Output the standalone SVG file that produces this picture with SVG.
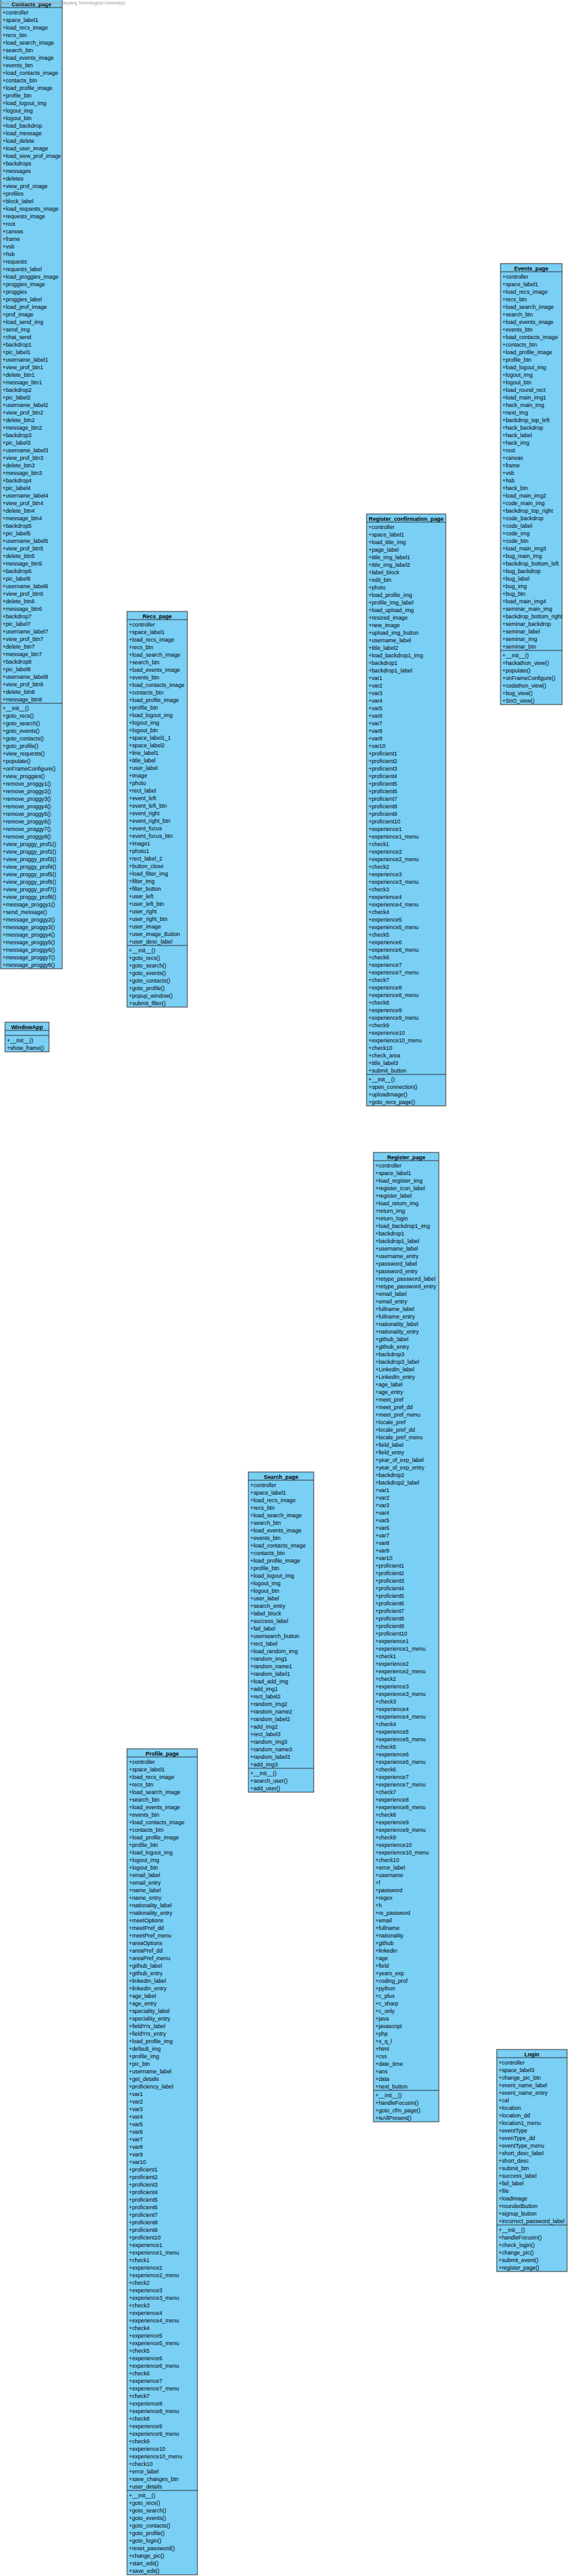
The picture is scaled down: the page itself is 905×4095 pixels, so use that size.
<svg xmlns="http://www.w3.org/2000/svg" width="905" height="4095" viewBox="0 0 905 4095">
<style>
.box{fill:#7ACFF5;stroke:#2b2b2b;stroke-width:1}
.sep{stroke:#2b2b2b;stroke-width:1}
.t{font-family:'Liberation Sans',Arial,sans-serif;font-size:8.8px;fill:#000}
.h{font-family:'Liberation Sans',Arial,sans-serif;font-size:8.8px;font-weight:bold;fill:#000;text-anchor:middle}
.wm{font-family:'Liberation Sans',Arial,sans-serif;font-size:6.6px;fill:#9a9a9a}
</style>
<rect width="905" height="4095" fill="#ffffff"/>
<g id="connectors"></g>

<g id="Contacts_page">
<rect class="box" x="1" y="-1" width="98" height="1541"/>
<line class="sep" x1="1" y1="12" x2="99" y2="12"/>
<line class="sep" x1="1" y1="1118" x2="99" y2="1118"/>
<text class="h" x="50" y="9.5">Contacts_page</text>
<text class="t" y="23"><tspan x="4">+controller</tspan><tspan x="4" dy="12">+space_label1</tspan><tspan x="4" dy="12">+load_recs_image</tspan><tspan x="4" dy="12">+recs_btn</tspan><tspan x="4" dy="12">+load_search_image</tspan><tspan x="4" dy="12">+search_btn</tspan><tspan x="4" dy="12">+load_events_image</tspan><tspan x="4" dy="12">+events_btn</tspan><tspan x="4" dy="12">+load_contacts_image</tspan><tspan x="4" dy="12">+contacts_btn</tspan><tspan x="4" dy="12">+load_profile_image</tspan><tspan x="4" dy="12">+profile_btn</tspan><tspan x="4" dy="12">+load_logout_img</tspan><tspan x="4" dy="12">+logout_img</tspan><tspan x="4" dy="12">+logout_btn</tspan><tspan x="4" dy="12">+load_backdrop</tspan><tspan x="4" dy="12">+load_message</tspan><tspan x="4" dy="12">+load_delete</tspan><tspan x="4" dy="12">+load_user_image</tspan><tspan x="4" dy="12">+load_view_prof_image</tspan><tspan x="4" dy="12">+backdrops</tspan><tspan x="4" dy="12">+messages</tspan><tspan x="4" dy="12">+deletes</tspan><tspan x="4" dy="12">+view_prof_image</tspan><tspan x="4" dy="12">+profiles</tspan><tspan x="4" dy="12">+block_label</tspan><tspan x="4" dy="12">+load_requests_image</tspan><tspan x="4" dy="12">+requests_image</tspan><tspan x="4" dy="12">+root</tspan><tspan x="4" dy="12">+canvas</tspan><tspan x="4" dy="12">+frame</tspan><tspan x="4" dy="12">+vsb</tspan><tspan x="4" dy="12">+hsb</tspan><tspan x="4" dy="12">+requests</tspan><tspan x="4" dy="12">+requests_label</tspan><tspan x="4" dy="12">+load_proggies_image</tspan><tspan x="4" dy="12">+proggies_image</tspan><tspan x="4" dy="12">+proggies</tspan><tspan x="4" dy="12">+proggies_label</tspan><tspan x="4" dy="12">+load_prof_image</tspan><tspan x="4" dy="12">+prof_image</tspan><tspan x="4" dy="12">+load_send_img</tspan><tspan x="4" dy="12">+send_img</tspan><tspan x="4" dy="12">+chat_send</tspan><tspan x="4" dy="12">+backdrop1</tspan><tspan x="4" dy="12">+pic_label1</tspan><tspan x="4" dy="12">+username_label1</tspan><tspan x="4" dy="12">+view_prof_btn1</tspan><tspan x="4" dy="12">+delete_btn1</tspan><tspan x="4" dy="12">+message_btn1</tspan><tspan x="4" dy="12">+backdrop2</tspan><tspan x="4" dy="12">+pic_label2</tspan><tspan x="4" dy="12">+username_label2</tspan><tspan x="4" dy="12">+view_prof_btn2</tspan><tspan x="4" dy="12">+delete_btn2</tspan><tspan x="4" dy="12">+message_btn2</tspan><tspan x="4" dy="12">+backdrop3</tspan><tspan x="4" dy="12">+pic_label3</tspan><tspan x="4" dy="12">+username_label3</tspan><tspan x="4" dy="12">+view_prof_btn3</tspan><tspan x="4" dy="12">+delete_btn3</tspan><tspan x="4" dy="12">+message_btn3</tspan><tspan x="4" dy="12">+backdrop4</tspan><tspan x="4" dy="12">+pic_label4</tspan><tspan x="4" dy="12">+username_label4</tspan><tspan x="4" dy="12">+view_prof_btn4</tspan><tspan x="4" dy="12">+delete_btn4</tspan><tspan x="4" dy="12">+message_btn4</tspan><tspan x="4" dy="12">+backdrop5</tspan><tspan x="4" dy="12">+pic_label5</tspan><tspan x="4" dy="12">+username_label5</tspan><tspan x="4" dy="12">+view_prof_btn5</tspan><tspan x="4" dy="12">+delete_btn5</tspan><tspan x="4" dy="12">+message_btn5</tspan><tspan x="4" dy="12">+backdrop6</tspan><tspan x="4" dy="12">+pic_label6</tspan><tspan x="4" dy="12">+username_label6</tspan><tspan x="4" dy="12">+view_prof_btn6</tspan><tspan x="4" dy="12">+delete_btn6</tspan><tspan x="4" dy="12">+message_btn6</tspan><tspan x="4" dy="12">+backdrop7</tspan><tspan x="4" dy="12">+pic_label7</tspan><tspan x="4" dy="12">+username_label7</tspan><tspan x="4" dy="12">+view_prof_btn7</tspan><tspan x="4" dy="12">+delete_btn7</tspan><tspan x="4" dy="12">+message_btn7</tspan><tspan x="4" dy="12">+backdrop8</tspan><tspan x="4" dy="12">+pic_label8</tspan><tspan x="4" dy="12">+username_label8</tspan><tspan x="4" dy="12">+view_prof_btn8</tspan><tspan x="4" dy="12">+delete_btn8</tspan><tspan x="4" dy="12">+message_btn8</tspan></text>
<text class="t" y="1129"><tspan x="4">+__init__()</tspan><tspan x="4" dy="12">+goto_recs()</tspan><tspan x="4" dy="12">+goto_search()</tspan><tspan x="4" dy="12">+goto_events()</tspan><tspan x="4" dy="12">+goto_contacts()</tspan><tspan x="4" dy="12">+goto_profile()</tspan><tspan x="4" dy="12">+view_requests()</tspan><tspan x="4" dy="12">+populate()</tspan><tspan x="4" dy="12">+onFrameConfigure()</tspan><tspan x="4" dy="12">+view_proggies()</tspan><tspan x="4" dy="12">+remove_proggy1()</tspan><tspan x="4" dy="12">+remove_proggy2()</tspan><tspan x="4" dy="12">+remove_proggy3()</tspan><tspan x="4" dy="12">+remove_proggy4()</tspan><tspan x="4" dy="12">+remove_proggy5()</tspan><tspan x="4" dy="12">+remove_proggy6()</tspan><tspan x="4" dy="12">+remove_proggy7()</tspan><tspan x="4" dy="12">+remove_proggy8()</tspan><tspan x="4" dy="12">+view_proggy_prof1()</tspan><tspan x="4" dy="12">+view_proggy_prof2()</tspan><tspan x="4" dy="12">+view_proggy_prof3()</tspan><tspan x="4" dy="12">+view_proggy_prof4()</tspan><tspan x="4" dy="12">+view_proggy_prof5()</tspan><tspan x="4" dy="12">+view_proggy_prof6()</tspan><tspan x="4" dy="12">+view_proggy_prof7()</tspan><tspan x="4" dy="12">+view_proggy_prof8()</tspan><tspan x="4" dy="12">+message_proggy1()</tspan><tspan x="4" dy="12">+send_message()</tspan><tspan x="4" dy="12">+message_proggy2()</tspan><tspan x="4" dy="12">+message_proggy3()</tspan><tspan x="4" dy="12">+message_proggy4()</tspan><tspan x="4" dy="12">+message_proggy5()</tspan><tspan x="4" dy="12">+message_proggy6()</tspan><tspan x="4" dy="12">+message_proggy7()</tspan><tspan x="4" dy="12">+message_proggy8()</tspan></text>
</g>

<g id="Recs_page">
<rect class="box" x="202" y="972" width="96" height="629"/>
<line class="sep" x1="202" y1="985" x2="298" y2="985"/>
<line class="sep" x1="202" y1="1503" x2="298" y2="1503"/>
<text class="h" x="250" y="982.5">Recs_page</text>
<text class="t" y="996"><tspan x="205">+controller</tspan><tspan x="205" dy="12">+space_label1</tspan><tspan x="205" dy="12">+load_recs_image</tspan><tspan x="205" dy="12">+recs_btn</tspan><tspan x="205" dy="12">+load_search_image</tspan><tspan x="205" dy="12">+search_btn</tspan><tspan x="205" dy="12">+load_events_image</tspan><tspan x="205" dy="12">+events_btn</tspan><tspan x="205" dy="12">+load_contacts_image</tspan><tspan x="205" dy="12">+contacts_btn</tspan><tspan x="205" dy="12">+load_profile_image</tspan><tspan x="205" dy="12">+profile_btn</tspan><tspan x="205" dy="12">+load_logout_img</tspan><tspan x="205" dy="12">+logout_img</tspan><tspan x="205" dy="12">+logout_btn</tspan><tspan x="205" dy="12">+space_label1_1</tspan><tspan x="205" dy="12">+space_label2</tspan><tspan x="205" dy="12">+line_label1</tspan><tspan x="205" dy="12">+title_label</tspan><tspan x="205" dy="12">+user_label</tspan><tspan x="205" dy="12">+image</tspan><tspan x="205" dy="12">+photo</tspan><tspan x="205" dy="12">+rect_label</tspan><tspan x="205" dy="12">+event_left</tspan><tspan x="205" dy="12">+event_left_btn</tspan><tspan x="205" dy="12">+event_right</tspan><tspan x="205" dy="12">+event_right_btn</tspan><tspan x="205" dy="12">+event_focus</tspan><tspan x="205" dy="12">+event_focus_btn</tspan><tspan x="205" dy="12">+image1</tspan><tspan x="205" dy="12">+photo1</tspan><tspan x="205" dy="12">+rect_label_2</tspan><tspan x="205" dy="12">+button_close</tspan><tspan x="205" dy="12">+load_filter_img</tspan><tspan x="205" dy="12">+filter_img</tspan><tspan x="205" dy="12">+filter_button</tspan><tspan x="205" dy="12">+user_left</tspan><tspan x="205" dy="12">+user_left_btn</tspan><tspan x="205" dy="12">+user_right</tspan><tspan x="205" dy="12">+user_right_btn</tspan><tspan x="205" dy="12">+user_image</tspan><tspan x="205" dy="12">+user_image_Button</tspan><tspan x="205" dy="12">+user_desc_label</tspan></text>
<text class="t" y="1514"><tspan x="205">+__init__()</tspan><tspan x="205" dy="12">+goto_recs()</tspan><tspan x="205" dy="12">+goto_search()</tspan><tspan x="205" dy="12">+goto_events()</tspan><tspan x="205" dy="12">+goto_contacts()</tspan><tspan x="205" dy="12">+goto_profile()</tspan><tspan x="205" dy="12">+popup_window()</tspan><tspan x="205" dy="12">+submit_filter()</tspan></text>
</g>

<g id="WindowApp">
<rect class="box" x="8" y="1625" width="70" height="47"/>
<line class="sep" x1="8" y1="1638" x2="78" y2="1638"/>
<line class="sep" x1="8" y1="1646" x2="78" y2="1646"/>
<text class="h" x="43" y="1635.5">WindowApp</text>
<text class="t" y="1657"><tspan x="11">+__init__()</tspan><tspan x="11" dy="12">+show_frame()</tspan></text>
</g>

<g id="Events_page">
<rect class="box" x="796" y="419" width="98" height="701"/>
<line class="sep" x1="796" y1="432" x2="894" y2="432"/>
<line class="sep" x1="796" y1="1034" x2="894" y2="1034"/>
<text class="h" x="845" y="429.5">Events_page</text>
<text class="t" y="443"><tspan x="799">+controller</tspan><tspan x="799" dy="12">+space_label1</tspan><tspan x="799" dy="12">+load_recs_image</tspan><tspan x="799" dy="12">+recs_btn</tspan><tspan x="799" dy="12">+load_search_image</tspan><tspan x="799" dy="12">+search_btn</tspan><tspan x="799" dy="12">+load_events_image</tspan><tspan x="799" dy="12">+events_btn</tspan><tspan x="799" dy="12">+load_contacts_image</tspan><tspan x="799" dy="12">+contacts_btn</tspan><tspan x="799" dy="12">+load_profile_image</tspan><tspan x="799" dy="12">+profile_btn</tspan><tspan x="799" dy="12">+load_logout_img</tspan><tspan x="799" dy="12">+logout_img</tspan><tspan x="799" dy="12">+logout_btn</tspan><tspan x="799" dy="12">+load_round_rect</tspan><tspan x="799" dy="12">+load_main_img1</tspan><tspan x="799" dy="12">+hack_main_img</tspan><tspan x="799" dy="12">+next_img</tspan><tspan x="799" dy="12">+backdrop_top_left</tspan><tspan x="799" dy="12">+hack_backdrop</tspan><tspan x="799" dy="12">+hack_label</tspan><tspan x="799" dy="12">+hack_img</tspan><tspan x="799" dy="12">+root</tspan><tspan x="799" dy="12">+canvas</tspan><tspan x="799" dy="12">+frame</tspan><tspan x="799" dy="12">+vsb</tspan><tspan x="799" dy="12">+hsb</tspan><tspan x="799" dy="12">+hack_btn</tspan><tspan x="799" dy="12">+load_main_img2</tspan><tspan x="799" dy="12">+code_main_img</tspan><tspan x="799" dy="12">+backdrop_top_right</tspan><tspan x="799" dy="12">+code_backdrop</tspan><tspan x="799" dy="12">+code_label</tspan><tspan x="799" dy="12">+code_img</tspan><tspan x="799" dy="12">+code_btn</tspan><tspan x="799" dy="12">+load_main_img3</tspan><tspan x="799" dy="12">+bug_main_img</tspan><tspan x="799" dy="12">+backdrop_bottom_left</tspan><tspan x="799" dy="12">+bug_backdrop</tspan><tspan x="799" dy="12">+bug_label</tspan><tspan x="799" dy="12">+bug_img</tspan><tspan x="799" dy="12">+bug_btn</tspan><tspan x="799" dy="12">+load_main_img4</tspan><tspan x="799" dy="12">+seminar_main_img</tspan><tspan x="799" dy="12">+backdrop_bottom_right</tspan><tspan x="799" dy="12">+seminar_backdrop</tspan><tspan x="799" dy="12">+seminar_label</tspan><tspan x="799" dy="12">+seminar_img</tspan><tspan x="799" dy="12">+seminar_btn</tspan></text>
<text class="t" y="1045"><tspan x="799">+__init__()</tspan><tspan x="799" dy="12">+hackathon_view()</tspan><tspan x="799" dy="12">+populate()</tspan><tspan x="799" dy="12">+onFrameConfigure()</tspan><tspan x="799" dy="12">+codathon_view()</tspan><tspan x="799" dy="12">+bug_view()</tspan><tspan x="799" dy="12">+SnO_view()</tspan></text>
</g>

<g id="Register_confirmation_page">
<rect class="box" x="583" y="817" width="126" height="941"/>
<line class="sep" x1="583" y1="830" x2="709" y2="830"/>
<line class="sep" x1="583" y1="1708" x2="709" y2="1708"/>
<text class="h" x="646" y="827.5">Register_confirmation_page</text>
<text class="t" y="841"><tspan x="586">+controller</tspan><tspan x="586" dy="12">+space_label1</tspan><tspan x="586" dy="12">+load_title_img</tspan><tspan x="586" dy="12">+page_label</tspan><tspan x="586" dy="12">+title_img_label1</tspan><tspan x="586" dy="12">+title_img_label2</tspan><tspan x="586" dy="12">+label_block</tspan><tspan x="586" dy="12">+edit_btn</tspan><tspan x="586" dy="12">+photo</tspan><tspan x="586" dy="12">+load_profile_img</tspan><tspan x="586" dy="12">+profile_img_label</tspan><tspan x="586" dy="12">+load_upload_img</tspan><tspan x="586" dy="12">+resized_image</tspan><tspan x="586" dy="12">+new_image</tspan><tspan x="586" dy="12">+upload_img_button</tspan><tspan x="586" dy="12">+username_label</tspan><tspan x="586" dy="12">+title_label2</tspan><tspan x="586" dy="12">+load_backdrop1_img</tspan><tspan x="586" dy="12">+backdrop1</tspan><tspan x="586" dy="12">+backdrop1_label</tspan><tspan x="586" dy="12">+var1</tspan><tspan x="586" dy="12">+var2</tspan><tspan x="586" dy="12">+var3</tspan><tspan x="586" dy="12">+var4</tspan><tspan x="586" dy="12">+var5</tspan><tspan x="586" dy="12">+var6</tspan><tspan x="586" dy="12">+var7</tspan><tspan x="586" dy="12">+var8</tspan><tspan x="586" dy="12">+var9</tspan><tspan x="586" dy="12">+var10</tspan><tspan x="586" dy="12">+proficient1</tspan><tspan x="586" dy="12">+proficient2</tspan><tspan x="586" dy="12">+proficient3</tspan><tspan x="586" dy="12">+proficient4</tspan><tspan x="586" dy="12">+proficient5</tspan><tspan x="586" dy="12">+proficient6</tspan><tspan x="586" dy="12">+proficient7</tspan><tspan x="586" dy="12">+proficient8</tspan><tspan x="586" dy="12">+proficient9</tspan><tspan x="586" dy="12">+proficient10</tspan><tspan x="586" dy="12">+experience1</tspan><tspan x="586" dy="12">+experience1_menu</tspan><tspan x="586" dy="12">+check1</tspan><tspan x="586" dy="12">+experience2</tspan><tspan x="586" dy="12">+experience2_menu</tspan><tspan x="586" dy="12">+check2</tspan><tspan x="586" dy="12">+experience3</tspan><tspan x="586" dy="12">+experience3_menu</tspan><tspan x="586" dy="12">+check3</tspan><tspan x="586" dy="12">+experience4</tspan><tspan x="586" dy="12">+experience4_menu</tspan><tspan x="586" dy="12">+check4</tspan><tspan x="586" dy="12">+experience5</tspan><tspan x="586" dy="12">+experience5_menu</tspan><tspan x="586" dy="12">+check5</tspan><tspan x="586" dy="12">+experience6</tspan><tspan x="586" dy="12">+experience6_menu</tspan><tspan x="586" dy="12">+check6</tspan><tspan x="586" dy="12">+experience7</tspan><tspan x="586" dy="12">+experience7_menu</tspan><tspan x="586" dy="12">+check7</tspan><tspan x="586" dy="12">+experience8</tspan><tspan x="586" dy="12">+experience8_menu</tspan><tspan x="586" dy="12">+check8</tspan><tspan x="586" dy="12">+experience9</tspan><tspan x="586" dy="12">+experience9_menu</tspan><tspan x="586" dy="12">+check9</tspan><tspan x="586" dy="12">+experience10</tspan><tspan x="586" dy="12">+experience10_menu</tspan><tspan x="586" dy="12">+check10</tspan><tspan x="586" dy="12">+check_area</tspan><tspan x="586" dy="12">+title_label3</tspan><tspan x="586" dy="12">+submit_button</tspan></text>
<text class="t" y="1719"><tspan x="586">+__init__()</tspan><tspan x="586" dy="12">+open_connection()</tspan><tspan x="586" dy="12">+uploadImage()</tspan><tspan x="586" dy="12">+goto_recs_page()</tspan></text>
</g>

<g id="Register_page">
<rect class="box" x="594" y="1832" width="104" height="1541"/>
<line class="sep" x1="594" y1="1845" x2="698" y2="1845"/>
<line class="sep" x1="594" y1="3323" x2="698" y2="3323"/>
<text class="h" x="646" y="1842.5">Register_page</text>
<text class="t" y="1856"><tspan x="597">+controller</tspan><tspan x="597" dy="12">+space_label1</tspan><tspan x="597" dy="12">+load_register_img</tspan><tspan x="597" dy="12">+register_icon_label</tspan><tspan x="597" dy="12">+register_label</tspan><tspan x="597" dy="12">+load_return_img</tspan><tspan x="597" dy="12">+return_img</tspan><tspan x="597" dy="12">+return_login</tspan><tspan x="597" dy="12">+load_backdrop1_img</tspan><tspan x="597" dy="12">+backdrop1</tspan><tspan x="597" dy="12">+backdrop1_label</tspan><tspan x="597" dy="12">+username_label</tspan><tspan x="597" dy="12">+username_entry</tspan><tspan x="597" dy="12">+password_label</tspan><tspan x="597" dy="12">+password_entry</tspan><tspan x="597" dy="12">+retype_password_label</tspan><tspan x="597" dy="12">+retype_password_entry</tspan><tspan x="597" dy="12">+email_label</tspan><tspan x="597" dy="12">+email_entry</tspan><tspan x="597" dy="12">+fullname_label</tspan><tspan x="597" dy="12">+fullname_entry</tspan><tspan x="597" dy="12">+nationality_label</tspan><tspan x="597" dy="12">+nationality_entry</tspan><tspan x="597" dy="12">+github_label</tspan><tspan x="597" dy="12">+github_entry</tspan><tspan x="597" dy="12">+backdrop3</tspan><tspan x="597" dy="12">+backdrop3_label</tspan><tspan x="597" dy="12">+LinkedIn_label</tspan><tspan x="597" dy="12">+LinkedIn_entry</tspan><tspan x="597" dy="12">+age_label</tspan><tspan x="597" dy="12">+age_entry</tspan><tspan x="597" dy="12">+meet_pref</tspan><tspan x="597" dy="12">+meet_pref_dd</tspan><tspan x="597" dy="12">+meet_pref_menu</tspan><tspan x="597" dy="12">+locale_pref</tspan><tspan x="597" dy="12">+locale_pref_dd</tspan><tspan x="597" dy="12">+locale_pref_menu</tspan><tspan x="597" dy="12">+field_label</tspan><tspan x="597" dy="12">+field_entry</tspan><tspan x="597" dy="12">+year_of_exp_label</tspan><tspan x="597" dy="12">+year_of_exp_entry</tspan><tspan x="597" dy="12">+backdrop2</tspan><tspan x="597" dy="12">+backdrop2_label</tspan><tspan x="597" dy="12">+var1</tspan><tspan x="597" dy="12">+var2</tspan><tspan x="597" dy="12">+var3</tspan><tspan x="597" dy="12">+var4</tspan><tspan x="597" dy="12">+var5</tspan><tspan x="597" dy="12">+var6</tspan><tspan x="597" dy="12">+var7</tspan><tspan x="597" dy="12">+var8</tspan><tspan x="597" dy="12">+var9</tspan><tspan x="597" dy="12">+var10</tspan><tspan x="597" dy="12">+proficient1</tspan><tspan x="597" dy="12">+proficient2</tspan><tspan x="597" dy="12">+proficient3</tspan><tspan x="597" dy="12">+proficient4</tspan><tspan x="597" dy="12">+proficient5</tspan><tspan x="597" dy="12">+proficient6</tspan><tspan x="597" dy="12">+proficient7</tspan><tspan x="597" dy="12">+proficient8</tspan><tspan x="597" dy="12">+proficient9</tspan><tspan x="597" dy="12">+proficient10</tspan><tspan x="597" dy="12">+experience1</tspan><tspan x="597" dy="12">+experience1_menu</tspan><tspan x="597" dy="12">+check1</tspan><tspan x="597" dy="12">+experience2</tspan><tspan x="597" dy="12">+experience2_menu</tspan><tspan x="597" dy="12">+check2</tspan><tspan x="597" dy="12">+experience3</tspan><tspan x="597" dy="12">+experience3_menu</tspan><tspan x="597" dy="12">+check3</tspan><tspan x="597" dy="12">+experience4</tspan><tspan x="597" dy="12">+experience4_menu</tspan><tspan x="597" dy="12">+check4</tspan><tspan x="597" dy="12">+experience5</tspan><tspan x="597" dy="12">+experience5_menu</tspan><tspan x="597" dy="12">+check5</tspan><tspan x="597" dy="12">+experience6</tspan><tspan x="597" dy="12">+experience6_menu</tspan><tspan x="597" dy="12">+check6</tspan><tspan x="597" dy="12">+experience7</tspan><tspan x="597" dy="12">+experience7_menu</tspan><tspan x="597" dy="12">+check7</tspan><tspan x="597" dy="12">+experience8</tspan><tspan x="597" dy="12">+experience8_menu</tspan><tspan x="597" dy="12">+check8</tspan><tspan x="597" dy="12">+experience9</tspan><tspan x="597" dy="12">+experience9_menu</tspan><tspan x="597" dy="12">+check9</tspan><tspan x="597" dy="12">+experience10</tspan><tspan x="597" dy="12">+experience10_menu</tspan><tspan x="597" dy="12">+check10</tspan><tspan x="597" dy="12">+error_label</tspan><tspan x="597" dy="12">+username</tspan><tspan x="597" dy="12">+f</tspan><tspan x="597" dy="12">+password</tspan><tspan x="597" dy="12">+regex</tspan><tspan x="597" dy="12">+h</tspan><tspan x="597" dy="12">+re_password</tspan><tspan x="597" dy="12">+email</tspan><tspan x="597" dy="12">+fullname</tspan><tspan x="597" dy="12">+nationality</tspan><tspan x="597" dy="12">+github</tspan><tspan x="597" dy="12">+linkedin</tspan><tspan x="597" dy="12">+age</tspan><tspan x="597" dy="12">+field</tspan><tspan x="597" dy="12">+years_exp</tspan><tspan x="597" dy="12">+coding_prof</tspan><tspan x="597" dy="12">+python</tspan><tspan x="597" dy="12">+c_plus</tspan><tspan x="597" dy="12">+c_sharp</tspan><tspan x="597" dy="12">+c_only</tspan><tspan x="597" dy="12">+java</tspan><tspan x="597" dy="12">+javascript</tspan><tspan x="597" dy="12">+php</tspan><tspan x="597" dy="12">+s_q_l</tspan><tspan x="597" dy="12">+html</tspan><tspan x="597" dy="12">+css</tspan><tspan x="597" dy="12">+date_time</tspan><tspan x="597" dy="12">+ans</tspan><tspan x="597" dy="12">+data</tspan><tspan x="597" dy="12">+next_button</tspan></text>
<text class="t" y="3334"><tspan x="597">+__init__()</tspan><tspan x="597" dy="12">+handleFocusIn()</tspan><tspan x="597" dy="12">+goto_cfm_page()</tspan><tspan x="597" dy="12">+isAllPresent()</tspan></text>
</g>

<g id="Search_page">
<rect class="box" x="395" y="2340" width="104" height="509"/>
<line class="sep" x1="395" y1="2353" x2="499" y2="2353"/>
<line class="sep" x1="395" y1="2811" x2="499" y2="2811"/>
<text class="h" x="447" y="2350.5">Search_page</text>
<text class="t" y="2364"><tspan x="398">+controller</tspan><tspan x="398" dy="12">+space_label1</tspan><tspan x="398" dy="12">+load_recs_image</tspan><tspan x="398" dy="12">+recs_btn</tspan><tspan x="398" dy="12">+load_search_image</tspan><tspan x="398" dy="12">+search_btn</tspan><tspan x="398" dy="12">+load_events_image</tspan><tspan x="398" dy="12">+events_btn</tspan><tspan x="398" dy="12">+load_contacts_image</tspan><tspan x="398" dy="12">+contacts_btn</tspan><tspan x="398" dy="12">+load_profile_image</tspan><tspan x="398" dy="12">+profile_btn</tspan><tspan x="398" dy="12">+load_logout_img</tspan><tspan x="398" dy="12">+logout_img</tspan><tspan x="398" dy="12">+logout_btn</tspan><tspan x="398" dy="12">+user_label</tspan><tspan x="398" dy="12">+search_entry</tspan><tspan x="398" dy="12">+label_block</tspan><tspan x="398" dy="12">+success_label</tspan><tspan x="398" dy="12">+fail_label</tspan><tspan x="398" dy="12">+usersearch_button</tspan><tspan x="398" dy="12">+rect_label</tspan><tspan x="398" dy="12">+load_random_img</tspan><tspan x="398" dy="12">+random_img1</tspan><tspan x="398" dy="12">+random_name1</tspan><tspan x="398" dy="12">+random_label1</tspan><tspan x="398" dy="12">+load_add_img</tspan><tspan x="398" dy="12">+add_img1</tspan><tspan x="398" dy="12">+rect_label2</tspan><tspan x="398" dy="12">+random_img2</tspan><tspan x="398" dy="12">+random_name2</tspan><tspan x="398" dy="12">+random_label2</tspan><tspan x="398" dy="12">+add_img2</tspan><tspan x="398" dy="12">+rect_label3</tspan><tspan x="398" dy="12">+random_img3</tspan><tspan x="398" dy="12">+random_name3</tspan><tspan x="398" dy="12">+random_label3</tspan><tspan x="398" dy="12">+add_img3</tspan></text>
<text class="t" y="2822"><tspan x="398">+__init__()</tspan><tspan x="398" dy="12">+search_user()</tspan><tspan x="398" dy="12">+add_user()</tspan></text>
</g>

<g id="Profile_page">
<rect class="box" x="202" y="2780" width="112" height="1313"/>
<line class="sep" x1="202" y1="2793" x2="314" y2="2793"/>
<line class="sep" x1="202" y1="3959" x2="314" y2="3959"/>
<text class="h" x="258" y="2790.5">Profile_page</text>
<text class="t" y="2804"><tspan x="205">+controller</tspan><tspan x="205" dy="12">+space_label1</tspan><tspan x="205" dy="12">+load_recs_image</tspan><tspan x="205" dy="12">+recs_btn</tspan><tspan x="205" dy="12">+load_search_image</tspan><tspan x="205" dy="12">+search_btn</tspan><tspan x="205" dy="12">+load_events_image</tspan><tspan x="205" dy="12">+events_btn</tspan><tspan x="205" dy="12">+load_contacts_image</tspan><tspan x="205" dy="12">+contacts_btn</tspan><tspan x="205" dy="12">+load_profile_image</tspan><tspan x="205" dy="12">+profile_btn</tspan><tspan x="205" dy="12">+load_logout_img</tspan><tspan x="205" dy="12">+logout_img</tspan><tspan x="205" dy="12">+logout_btn</tspan><tspan x="205" dy="12">+email_label</tspan><tspan x="205" dy="12">+email_entry</tspan><tspan x="205" dy="12">+name_label</tspan><tspan x="205" dy="12">+name_entry</tspan><tspan x="205" dy="12">+nationality_label</tspan><tspan x="205" dy="12">+nationality_entry</tspan><tspan x="205" dy="12">+meetOptions</tspan><tspan x="205" dy="12">+meetPref_dd</tspan><tspan x="205" dy="12">+meetPref_menu</tspan><tspan x="205" dy="12">+areaOptions</tspan><tspan x="205" dy="12">+areaPref_dd</tspan><tspan x="205" dy="12">+areaPref_menu</tspan><tspan x="205" dy="12">+github_label</tspan><tspan x="205" dy="12">+github_entry</tspan><tspan x="205" dy="12">+linkedIn_label</tspan><tspan x="205" dy="12">+linkedIn_entry</tspan><tspan x="205" dy="12">+age_label</tspan><tspan x="205" dy="12">+age_entry</tspan><tspan x="205" dy="12">+speciality_label</tspan><tspan x="205" dy="12">+speciality_entry</tspan><tspan x="205" dy="12">+fieldYrs_label</tspan><tspan x="205" dy="12">+fieldYrs_entry</tspan><tspan x="205" dy="12">+load_profile_img</tspan><tspan x="205" dy="12">+default_img</tspan><tspan x="205" dy="12">+profile_img</tspan><tspan x="205" dy="12">+pic_btn</tspan><tspan x="205" dy="12">+username_label</tspan><tspan x="205" dy="12">+get_details</tspan><tspan x="205" dy="12">+proficiency_label</tspan><tspan x="205" dy="12">+var1</tspan><tspan x="205" dy="12">+var2</tspan><tspan x="205" dy="12">+var3</tspan><tspan x="205" dy="12">+var4</tspan><tspan x="205" dy="12">+var5</tspan><tspan x="205" dy="12">+var6</tspan><tspan x="205" dy="12">+var7</tspan><tspan x="205" dy="12">+var8</tspan><tspan x="205" dy="12">+var9</tspan><tspan x="205" dy="12">+var10</tspan><tspan x="205" dy="12">+proficient1</tspan><tspan x="205" dy="12">+proficient2</tspan><tspan x="205" dy="12">+proficient3</tspan><tspan x="205" dy="12">+proficient4</tspan><tspan x="205" dy="12">+proficient5</tspan><tspan x="205" dy="12">+proficient6</tspan><tspan x="205" dy="12">+proficient7</tspan><tspan x="205" dy="12">+proficient8</tspan><tspan x="205" dy="12">+proficient9</tspan><tspan x="205" dy="12">+proficient10</tspan><tspan x="205" dy="12">+experience1</tspan><tspan x="205" dy="12">+experience1_menu</tspan><tspan x="205" dy="12">+check1</tspan><tspan x="205" dy="12">+experience2</tspan><tspan x="205" dy="12">+experience2_menu</tspan><tspan x="205" dy="12">+check2</tspan><tspan x="205" dy="12">+experience3</tspan><tspan x="205" dy="12">+experience3_menu</tspan><tspan x="205" dy="12">+check3</tspan><tspan x="205" dy="12">+experience4</tspan><tspan x="205" dy="12">+experience4_menu</tspan><tspan x="205" dy="12">+check4</tspan><tspan x="205" dy="12">+experience5</tspan><tspan x="205" dy="12">+experience5_menu</tspan><tspan x="205" dy="12">+check5</tspan><tspan x="205" dy="12">+experience6</tspan><tspan x="205" dy="12">+experience6_menu</tspan><tspan x="205" dy="12">+check6</tspan><tspan x="205" dy="12">+experience7</tspan><tspan x="205" dy="12">+experience7_menu</tspan><tspan x="205" dy="12">+check7</tspan><tspan x="205" dy="12">+experience8</tspan><tspan x="205" dy="12">+experience8_menu</tspan><tspan x="205" dy="12">+check8</tspan><tspan x="205" dy="12">+experience9</tspan><tspan x="205" dy="12">+experience9_menu</tspan><tspan x="205" dy="12">+check9</tspan><tspan x="205" dy="12">+experience10</tspan><tspan x="205" dy="12">+experience10_menu</tspan><tspan x="205" dy="12">+check10</tspan><tspan x="205" dy="12">+error_label</tspan><tspan x="205" dy="12">+save_changes_btn</tspan><tspan x="205" dy="12">+user_details</tspan></text>
<text class="t" y="3970"><tspan x="205">+__init__()</tspan><tspan x="205" dy="12">+goto_recs()</tspan><tspan x="205" dy="12">+goto_search()</tspan><tspan x="205" dy="12">+goto_events()</tspan><tspan x="205" dy="12">+goto_contacts()</tspan><tspan x="205" dy="12">+goto_profile()</tspan><tspan x="205" dy="12">+goto_login()</tspan><tspan x="205" dy="12">+reset_password()</tspan><tspan x="205" dy="12">+change_pic()</tspan><tspan x="205" dy="12">+start_edit()</tspan><tspan x="205" dy="12">+save_edit()</tspan></text>
</g>

<g id="Login">
<rect class="box" x="790" y="3258" width="112" height="353"/>
<line class="sep" x1="790" y1="3271" x2="902" y2="3271"/>
<line class="sep" x1="790" y1="3537" x2="902" y2="3537"/>
<text class="h" x="846" y="3268.5">Login</text>
<text class="t" y="3282"><tspan x="793">+controller</tspan><tspan x="793" dy="12">+space_label3</tspan><tspan x="793" dy="12">+change_pic_btn</tspan><tspan x="793" dy="12">+event_name_label</tspan><tspan x="793" dy="12">+event_name_entry</tspan><tspan x="793" dy="12">+cal</tspan><tspan x="793" dy="12">+location</tspan><tspan x="793" dy="12">+location_dd</tspan><tspan x="793" dy="12">+location1_menu</tspan><tspan x="793" dy="12">+eventType</tspan><tspan x="793" dy="12">+evenType_dd</tspan><tspan x="793" dy="12">+eventType_menu</tspan><tspan x="793" dy="12">+short_desc_label</tspan><tspan x="793" dy="12">+short_desc</tspan><tspan x="793" dy="12">+submit_btn</tspan><tspan x="793" dy="12">+success_label</tspan><tspan x="793" dy="12">+fail_label</tspan><tspan x="793" dy="12">+file</tspan><tspan x="793" dy="12">+loadimage</tspan><tspan x="793" dy="12">+roundedbutton</tspan><tspan x="793" dy="12">+signup_button</tspan><tspan x="793" dy="12">+incorrect_password_label</tspan></text>
<text class="t" y="3548"><tspan x="793">+__init__()</tspan><tspan x="793" dy="12">+handleFocusIn()</tspan><tspan x="793" dy="12">+check_login()</tspan><tspan x="793" dy="12">+change_pic()</tspan><tspan x="793" dy="12">+submit_event()</tspan><tspan x="793" dy="12">+register_page()</tspan></text>
</g>

<text class="wm" x="-2" y="7">Visual Paradigm Standard(Justin(Nanyang Technological University))</text>
</svg>
